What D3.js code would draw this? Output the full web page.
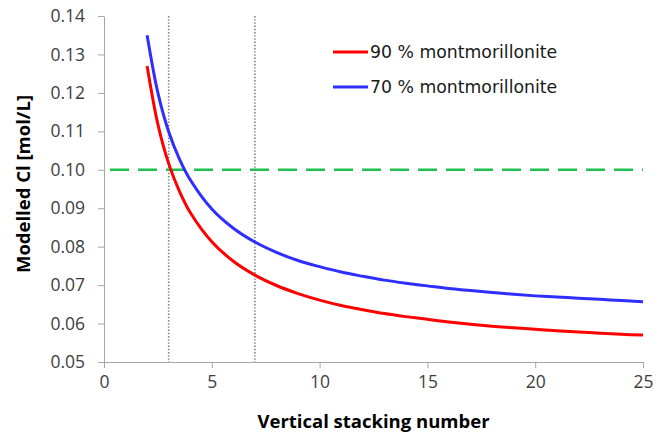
<!DOCTYPE html>
<html>
<head>
<meta charset="utf-8">
<script src="https://cdn.jsdelivr.net/npm/d3@7"></script>
<style>
  body { margin: 0; background: #fff; }
  svg { display: block; }
</style>
</head>
<body>
<div id="chart"></div>
<script>
// stacking numbers and modelled Cl values
const stacking = [2, 2.5, 3, 3.5, 4, 5, 6, 7, 8, 9, 10, 11, 12, 13, 14, 15, 16, 17, 18, 19, 20, 21, 22, 23, 24, 25];
const mont90 = [0.127, 0.1118, 0.1016, 0.0944, 0.0889, 0.0813, 0.0762, 0.0726, 0.0699, 0.0678, 0.0661, 0.0647, 0.0636, 0.0626, 0.0618, 0.0611, 0.0604, 0.0598, 0.0593, 0.0589, 0.0585, 0.0581, 0.0578, 0.0575, 0.0572, 0.0570];
const mont70 = [0.135, 0.1200, 0.1099, 0.1028, 0.0974, 0.0898, 0.0848, 0.0812, 0.0785, 0.0764, 0.0748, 0.0734, 0.0723, 0.0713, 0.0705, 0.0698, 0.0691, 0.0686, 0.0681, 0.0676, 0.0672, 0.0669, 0.0666, 0.0663, 0.0660, 0.0657];
const seriesNames = ["90 % montmorillonite", "70 % montmorillonite"];
const seriesColors = ["#ff0000", "#2e2eff"];
const xTicks = [0, 5, 10, 15, 20, 25];
const yTicks = [0.05, 0.06, 0.07, 0.08, 0.09, 0.10, 0.11, 0.12, 0.13, 0.14];
const threshold = 0.10;
const markers = [3, 7];

const dimensions = {
  width: 656,
  height: 439,
  margins: { top: 16, bottom: 77, left: 104, right: 13 }
};
dimensions.containerWidth = dimensions.width - dimensions.margins.left - dimensions.margins.right;
dimensions.containerHeight = dimensions.height - dimensions.margins.top - dimensions.margins.bottom;

const svg = d3.select("#chart")
  .append("svg")
  .attr("width", dimensions.width)
  .attr("height", dimensions.height);

const container = svg.append("g")
  .attr("transform", `translate(${dimensions.margins.left}, ${dimensions.margins.top})`);

const x = d3.scaleLinear().domain([0, 25]).range([0, dimensions.containerWidth]);
const y = d3.scaleLinear().domain([0.05, 0.14]).range([dimensions.containerHeight, 0]);

const font = "'Open Sans', sans-serif";

// axes
const xAxis = container.append("g")
  .attr("transform", `translate(0, ${dimensions.containerHeight})`)
  .call(d3.axisBottom(x).tickValues(xTicks).tickSize(6).tickSizeOuter(0).tickPadding(8));
const yAxis = container.append("g")
  .call(d3.axisLeft(y).tickValues(yTicks).tickFormat(d3.format(".2f")).tickSize(6).tickSizeOuter(0).tickPadding(13));

[xAxis, yAxis].forEach(ax => {
  ax.select(".domain").attr("stroke", "#a6a6a6");
  ax.selectAll(".tick line").attr("stroke", "#a6a6a6");
  ax.selectAll(".tick text")
    .attr("fill", "#404040")
    .style("font-family", font)
    .style("font-size", "17.5px");
});

// vertical dotted markers
container.selectAll(".marker")
  .data(markers)
  .join("line")
  .attr("class", "marker")
  .attr("x1", d => x(d)).attr("x2", d => x(d))
  .attr("y1", 0).attr("y2", dimensions.containerHeight)
  .attr("stroke", "#808080")
  .attr("stroke-width", 1.6)
  .attr("stroke-dasharray", "1.4,1.8");

// threshold line
container.append("line")
  .attr("x1", x(0)).attr("x2", x(25))
  .attr("y1", y(threshold)).attr("y2", y(threshold))
  .attr("stroke", "#1fbf4f")
  .attr("stroke-width", 2.5)
  .attr("stroke-dasharray", "19,9")
  .attr("stroke-dashoffset", -6);

// curves
const line = d3.line()
  .x(d => x(d[0]))
  .y(d => y(d[1]))
  .curve(d3.curveCatmullRom.alpha(0.5));

[mont90, mont70].forEach((vals, i) => {
  container.append("path")
    .datum(stacking.map((s, j) => [s, vals[j]]))
    .attr("fill", "none")
    .attr("stroke", seriesColors[i])
    .attr("stroke-width", 3)
    .attr("d", line);
});

// legend
const legend = svg.append("g").attr("transform", "translate(333, 52)");
seriesNames.forEach((name, i) => {
  const row = legend.append("g").attr("transform", `translate(0, ${i * 35})`);
  row.append("line")
    .attr("x1", 0).attr("x2", 35)
    .attr("y1", 0).attr("y2", 0)
    .attr("stroke", seriesColors[i])
    .attr("stroke-width", 3);
  row.append("text")
    .attr("x", 37)
    .attr("y", 6)
    .attr("fill", "#1a1a1a")
    .style("font-family", "'DejaVu Sans', sans-serif")
    .style("font-size", "17.3px")
    .text(name);
});

// axis titles
svg.append("text")
  .attr("text-anchor", "middle")
  .attr("x", dimensions.margins.left + dimensions.containerWidth / 2)
  .attr("y", 428)
  .style("font-family", font)
  .style("font-weight", "bold")
  .style("font-size", "18.5px")
  .text("Vertical stacking number");

svg.append("text")
  .attr("text-anchor", "middle")
  .attr("transform", `translate(30, 184) rotate(-90)`)
  .style("font-family", font)
  .style("font-weight", "bold")
  .style("font-size", "18.5px")
  .text("Modelled Cl [mol/L]");
</script>
</body>
</html>
